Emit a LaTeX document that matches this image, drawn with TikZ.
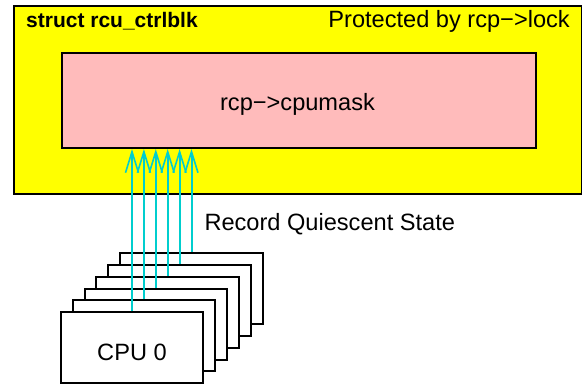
\documentclass[tikz,border=0pt]{standalone}
\usepackage{fontspec}
\setmainfont{Liberation Sans}
\usetikzlibrary{arrows.meta}
\definecolor{ybg}{RGB}{255,255,0}
\definecolor{pinkbg}{RGB}{255,187,187}
\definecolor{arrowcyan}{RGB}{0,206,206}
\begin{document}
\begin{tikzpicture}[x=1pt,y=-1pt,
  boxline/.style={draw=black,line width=2pt},
  cpubox/.style={boxline,fill=white,minimum width=142.6pt,minimum height=71pt,inner sep=0pt,anchor=center},
  qsarrow/.style={draw=arrowcyan,line width=2pt,-{Straight Barb[length=21pt,width=13pt,line width=1.6pt]}},
  normtext/.style={font=\fontsize{23.6}{28}\selectfont,inner sep=0pt}
]
\useasboundingbox (0,0) rectangle (582,386);
\node[boxline,fill=ybg,minimum width=567.5pt,minimum height=188.5pt,inner sep=0pt,anchor=north west] (outer) at (13.4,4.5) {};
\node[boxline,fill=pinkbg,minimum width=474pt,minimum height=95pt,inner sep=0pt,anchor=north west] (pink) at (60.5,52) {};
\node[inner sep=0pt,anchor=base west,font=\fontsize{21}{25}\selectfont\bfseries] (title) at (26,27.5) {struct rcu\_ctrlblk};
\node[normtext,anchor=base east] (prot) at (570,27.5) {Protected by rcp−>lock};
\node[normtext,anchor=base] (mask) at (297.5,110.5) {rcp−>cpumask};
\foreach \k in {5,4,3,2,1,0} {
  \node[cpubox] (cpu\k) at ({132+11.9*\k},{347.8-11.9*\k}) {};
}
\node[normtext,anchor=base] (cpulabel) at (132,360) {CPU 0};
\foreach \k in {0,...,5} {
  \draw[qsarrow] (cpu\k.north) -- (cpu\k.north |- pink.south);
}
\node[normtext,anchor=base west] (rqs) at (204.3,230.7) {Record Quiescent State};
\end{tikzpicture}
\end{document}
